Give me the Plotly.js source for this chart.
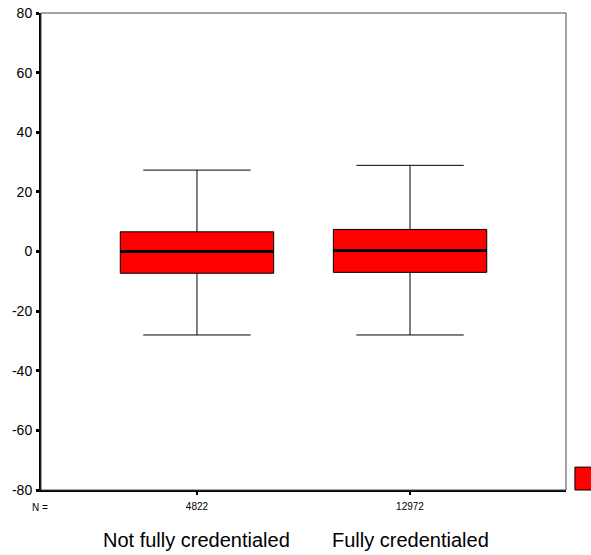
<!DOCTYPE html>
<html><head><meta charset="utf-8">
<script src="https://cdn.plot.ly/plotly-3.0.1.min.js"></script>
<style>html,body{margin:0;padding:0;background:#fff}</style>
</head><body>
<div id="chart" style="width:591px;height:555px"></div>
<script>
var categories = ["Not fully credentialed", "Fully credentialed"];
var counts = ["4822", "12972"];
var lowerWhisker = [-28, -28];
var q1 = [-7.3, -7.0];
var median = [0, 0.3];
var q3 = [6.6, 7.4];
var upperWhisker = [27.3, 28.9];
var yTicks = [-80, -60, -40, -20, 0, 20, 40, 60, 80];
var yTickLabels = ["-80", "-60", "-40", "-20", "0", "20", "40", "60", "80"];

var pos = categories.map(function(_, i){ return i; });
var boxW = 0.72;
var font = "Liberation Sans, Arial, sans-serif";

var traces = [{
  type: "box",
  x: pos,
  q1: q1, median: median, q3: q3,
  lowerfence: lowerWhisker, upperfence: upperWhisker,
  width: boxW,
  whiskerwidth: 0.7,
  fillcolor: "#ff0000",
  line: {color: "#000000", width: 1},
  hoverinfo: "y",
  showlegend: false
}];
pos.forEach(function(p, i){
  traces.push({
    type: "scatter", mode: "lines",
    x: [p - boxW/2, p + boxW/2], y: [median[i], median[i]],
    line: {color: "#000000", width: 3},
    hoverinfo: "skip", showlegend: false
  });
});

var annotations = [{
  text: "N =", xref: "paper", yref: "paper", x: -0.002, y: -0.037,
  xanchor: "center", yanchor: "middle", showarrow: false,
  font: {family: font, size: 10, color: "#000"}
}];
categories.forEach(function(c, i){
  annotations.push({
    text: c, xref: "x", yref: "paper", x: pos[i], y: -0.105,
    xanchor: "center", yanchor: "middle", showarrow: false,
    font: {family: font, size: 20, color: "#000"}
  });
});

var layout = {
  width: 591, height: 555,
  margin: {l: 41, r: 25, t: 13, b: 65},
  paper_bgcolor: "#fff", plot_bgcolor: "#fff",
  font: {family: font, color: "#000"},
  xaxis: {
    range: [-0.732, 1.732], tickvals: pos, ticktext: counts,
    showgrid: false, zeroline: false, showline: true, linecolor: "#000", linewidth: 2,
    ticks: "outside", ticklen: 3, tickwidth: 2, tickcolor: "#000", ticklabelstandoff: 3,
    tickfont: {family: font, size: 10, color: "#000"}, fixedrange: true
  },
  yaxis: {
    range: [-80, 80], tickvals: yTicks, ticktext: yTickLabels,
    showgrid: false, zeroline: false, showline: true, linecolor: "#000", linewidth: 2,
    ticks: "outside", ticklen: 3, tickwidth: 3, tickcolor: "#000", ticklabelstandoff: 1,
    tickfont: {family: font, size: 14, color: "#000"}, fixedrange: true
  },
  shapes: [
    {type: "rect", xref: "paper", yref: "paper", x0: 0, x1: 1, y0: 0, y1: 1,
     line: {color: "#444", width: 1}},
    {type: "rect", xref: "paper", yref: "paper", x0: 1.017, x1: 1.05, y0: 0, y1: 0.048,
     fillcolor: "#ff0000", line: {color: "#000", width: 1}}
  ],
  annotations: annotations
};

Plotly.newPlot("chart", traces, layout, {displayModeBar: false, staticPlot: true});
</script>
</body></html>
